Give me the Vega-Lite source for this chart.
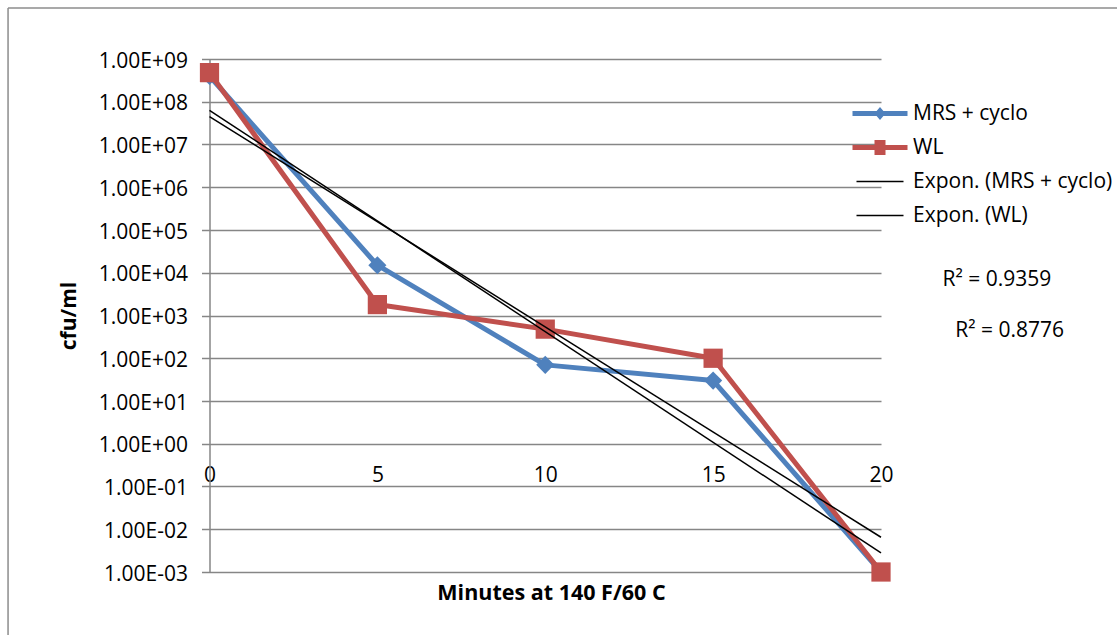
{
  "$schema": "https://vega.github.io/schema/vega-lite/v6.json",
  "width": 671.5,
  "height": 513,
  "autosize": {"type": "none"},
  "padding": {"left": 209.5, "top": 59, "right": 236, "bottom": 63},
  "background": "white",
  "config": {
    "font": "Open Sans",
    "view": {"stroke": null}
  },
  "datasets": {
    "counts": [
      {"series": "MRS + cyclo", "minutes": 0, "cfu": 400000000},
      {"series": "MRS + cyclo", "minutes": 5, "cfu": 15000},
      {"series": "MRS + cyclo", "minutes": 10, "cfu": 70},
      {"series": "MRS + cyclo", "minutes": 15, "cfu": 30},
      {"series": "MRS + cyclo", "minutes": 20, "cfu": 0.001},
      {"series": "WL", "minutes": 0, "cfu": 480000000},
      {"series": "WL", "minutes": 5, "cfu": 1800},
      {"series": "WL", "minutes": 10, "cfu": 480},
      {"series": "WL", "minutes": 15, "cfu": 100},
      {"series": "WL", "minutes": 20, "cfu": 0.001}
    ],
    "trends": [
      {"series": "Expon. (MRS + cyclo)", "minutes": 0, "cfu": 63000000},
      {"series": "Expon. (MRS + cyclo)", "minutes": 20, "cfu": 0.0028},
      {"series": "Expon. (WL)", "minutes": 0, "cfu": 45000000},
      {"series": "Expon. (WL)", "minutes": 20, "cfu": 0.0065}
    ],
    "fits": [
      {"series": "Expon. (MRS + cyclo)", "label": "R² = 0.9359"},
      {"series": "Expon. (WL)", "label": "R² = 0.8776"}
    ],
    "frame": [
      {"minutes": -6, "minutes_end": 40, "cfu_top": 15600000000, "cfu_bottom": 0.00001}
    ]
  },
  "layer": [
    {
      "data": {"name": "counts"},
      "mark": {"type": "line", "strokeWidth": 5, "strokeJoin": "round", "strokeCap": "round"},
      "encoding": {
        "x": {
          "field": "minutes",
          "type": "quantitative",
          "scale": {"domain": [0, 20], "nice": false, "zero": false},
          "axis": {
            "values": [0, 5, 10, 15, 20],
            "offset": -128.25,
            "grid": false,
            "ticks": false,
            "domain": false,
            "labelFontSize": 21,
            "labelColor": "black",
            "labelPadding": 21,
            "labelFlush": false,
            "labelOverlap": false,
            "title": "Minutes at 140 F/60 C",
            "titleFontSize": 21.5,
            "titleFontWeight": "bold",
            "titleColor": "black",
            "titlePadding": 97,
            "titleX": 341.5
          }
        },
        "y": {
          "field": "cfu",
          "type": "quantitative",
          "scale": {"type": "log", "domain": [0.001, 1000000000], "nice": false},
          "axis": {
            "values": [0.001, 0.01, 0.1, 1, 10, 100, 1000, 10000, 100000, 1000000, 10000000, 100000000, 1000000000],
            "labelExpr": "'1.00E' + (round(log(datum.value)/LN10) < 0 ? '-' : '+') + (abs(round(log(datum.value)/LN10)) < 10 ? '0' : '') + abs(round(log(datum.value)/LN10))",
            "grid": true,
            "gridColor": "#868686",
            "gridWidth": 1.5,
            "domainColor": "#868686",
            "domainWidth": 1.5,
            "tickColor": "#868686",
            "tickWidth": 1.5,
            "tickSize": 8,
            "labelFontSize": 21,
            "labelColor": "black",
            "labelPadding": 14,
            "labelOffset": 2,
            "title": "cfu/ml",
            "titleFontSize": 21,
            "titleFontWeight": "bold",
            "titleColor": "black",
            "titlePadding": 19
          }
        },
        "color": {
          "field": "series",
          "type": "nominal",
          "scale": {
            "domain": ["MRS + cyclo", "WL", "Expon. (MRS + cyclo)", "Expon. (WL)"],
            "range": ["#4F81BD", "#C0504D", "#000000", "#000000"]
          },
          "legend": {
            "title": null,
            "orient": "none",
            "legendX": 660,
            "legendY": 44,
            "padding": 0,
            "symbolSize": 100,
            "labelFontSize": 21,
            "labelColor": "black",
            "labelOffset": 22.5,
            "labelLimit": 400,
            "rowPadding": 12,
            "encode": {
              "symbols": {
                "update": {
                  "shape": {"signal": "datum.value === 'MRS + cyclo' ? 'M-5.5,-0.5L5.5,-0.5L5.5,0.5L-5.5,0.5Z M-1.1,0L0,-1.3L1.1,0L0,1.3Z' : datum.value === 'WL' ? 'M-5.5,-0.5L5.5,-0.5L5.5,0.5L-5.5,0.5Z M-1.1,-1.5L1.1,-1.5L1.1,1.5L-1.1,1.5Z' : 'M-4.7,-0.15L4.7,-0.15L4.7,0.15L-4.7,0.15Z'"},
                  "fill": {"scale": "color", "field": "value"},
                  "stroke": {"value": "transparent"},
                  "strokeWidth": {"value": 0},
                  "opacity": {"value": 1}
                }
              }
            }
          }
        }
      }
    },
    {
      "data": {"name": "counts"},
      "mark": {"type": "point", "filled": true, "opacity": 1},
      "encoding": {
        "x": {"field": "minutes", "type": "quantitative"},
        "y": {"field": "cfu", "type": "quantitative"},
        "color": {"field": "series", "type": "nominal"},
        "shape": {
          "field": "series",
          "type": "nominal",
          "scale": {"domain": ["MRS + cyclo", "WL"], "range": ["diamond", "square"]},
          "legend": null
        },
        "size": {
          "field": "series",
          "type": "nominal",
          "scale": {"domain": ["MRS + cyclo", "WL"], "range": [330, 370]},
          "legend": null
        }
      }
    },
    {
      "data": {"name": "trends"},
      "mark": {"type": "line", "strokeWidth": 1.5},
      "encoding": {
        "x": {"field": "minutes", "type": "quantitative"},
        "y": {"field": "cfu", "type": "quantitative"},
        "color": {"field": "series", "type": "nominal"}
      }
    },
    {
      "data": {"name": "fits"},
      "transform": [{"filter": "datum.series === 'Expon. (MRS + cyclo)'"}],
      "mark": {"type": "text", "fontSize": 21, "color": "black", "align": "center", "baseline": "middle"},
      "encoding": {
        "x": {"datum": 23.45, "type": "quantitative"},
        "y": {"datum": 6870, "type": "quantitative"},
        "text": {"field": "label"}
      }
    },
    {
      "data": {"name": "fits"},
      "transform": [{"filter": "datum.series === 'Expon. (WL)'"}],
      "mark": {"type": "text", "fontSize": 21, "color": "black", "align": "center", "baseline": "middle"},
      "encoding": {
        "x": {"datum": 23.83, "type": "quantitative"},
        "y": {"datum": 441, "type": "quantitative"},
        "text": {"field": "label"}
      }
    },
    {
      "data": {"name": "frame"},
      "mark": {"type": "rule", "color": "#8c8c8c", "strokeWidth": 1.5, "clip": false},
      "encoding": {
        "x": {"field": "minutes", "type": "quantitative"},
        "y": {"field": "cfu_top", "type": "quantitative"},
        "y2": {"field": "cfu_bottom"}
      }
    },
    {
      "data": {"name": "frame"},
      "mark": {"type": "rule", "color": "#8c8c8c", "strokeWidth": 1.5, "clip": false},
      "encoding": {
        "x": {"field": "minutes", "type": "quantitative"},
        "x2": {"field": "minutes_end"},
        "y": {"field": "cfu_top", "type": "quantitative"}
      }
    }
  ]
}
